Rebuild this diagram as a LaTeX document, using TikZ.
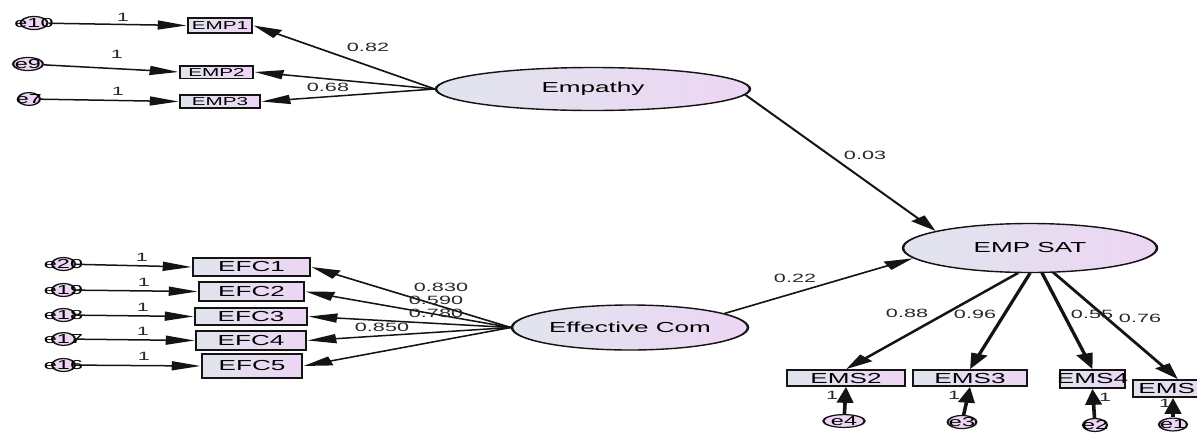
\documentclass[tikz,border=0pt]{standalone}
\usepackage{fontspec}
\setmainfont{Liberation Sans}
\usetikzlibrary{arrows.meta,shapes.geometric}
\definecolor{lc}{RGB}{20,20,20}
\definecolor{fl}{RGB}{224,229,237}
\definecolor{fr}{RGB}{237,213,244}
\definecolor{tc}{RGB}{40,40,40}
\tikzset{
  obs/.style={draw=lc, line width=1.6pt, rectangle, inner sep=0pt, left color=fl, right color=fr, text=black, font=\fontsize{14.5}{14.5}\selectfont},
  obssm/.style={obs, font=\fontsize{11.5}{11.5}\selectfont},
  lat/.style={draw=lc, line width=1.4pt, ellipse, inner sep=0pt, left color=fl, right color=fr, text=black, font=\fontsize{14.5}{14.5}\selectfont},
  err/.style={draw=lc, line width=1.2pt, ellipse, inner sep=0pt, left color=fr, right color=fr, text=black, font=\fontsize{13}{13}\selectfont},
  pth/.style={draw=lc, line width=1.5pt, -{Triangle[length=16pt,width=9pt]}},
  pthb/.style={pth, line width=2pt},
  lbl/.style={inner sep=0pt, text=tc, font=\fontsize{12}{12}\selectfont},
  one/.style={inner sep=0pt, text=tc, font=\fontsize{12}{12}\selectfont}
}
\newcommand{\cz}[1]{\makebox[0pt]{#1}}
\begin{document}
\begin{tikzpicture}[x=1pt,y=-1pt]
\useasboundingbox (0,0) rectangle (1197,432);
\clip (0,0) rectangle (1197,432);
\begin{scope}[transform canvas={xscale=1.8}, x=0.55556pt, y=-1pt]
% latent variables
\node[lat, minimum width=174.4pt, minimum height=43pt] (Empathy) at (593,89) {\cz{Empathy}};
\node[lat, minimum width=141.1pt, minimum height=49pt] (EMPSAT) at (1030,248) {\cz{EMP SAT}};
\node[lat, minimum width=131.1pt, minimum height=45pt] (EffCom) at (630,327.5) {\cz{Effective Com}};
% EMP indicators
\node[obssm, minimum width=35.6pt, minimum height=15pt] (EMP1) at (220,25.5) {\cz{EMP1}};
\node[obssm, minimum width=40.6pt, minimum height=12.6pt] (EMP2) at (216.5,72) {\cz{EMP2}};
\node[obssm, minimum width=44.4pt, minimum height=13pt] (EMP3) at (220,101.5) {\cz{EMP3}};
% EFC indicators
\node[obs, minimum width=65pt, minimum height=18pt] (EFC1) at (251.5,267) {\cz{EFC1}};
\node[obs, minimum width=58.3pt, minimum height=19pt] (EFC2) at (251.5,291.5) {\cz{EFC2}};
\node[obs, minimum width=62.2pt, minimum height=17pt] (EFC3) at (251,316.5) {\cz{EFC3}};
\node[obs, minimum width=61.1pt, minimum height=19pt] (EFC4) at (251,340.5) {\cz{EFC4}};
\node[obs, minimum width=55.6pt, minimum height=24pt] (EFC5) at (252,366) {\cz{EFC5}};
% EMS indicators
\node[obs, minimum width=65.6pt, minimum height=16pt] (EMS2) at (846,378) {\cz{EMS2}};
\node[obs, minimum width=63.3pt, minimum height=16pt] (EMS3) at (970,378) {\cz{EMS3}};
\node[obs, minimum width=36.1pt, minimum height=18pt] (EMS4) at (1092.5,379) {\cz{EMS4}};
\node[obs, minimum width=50pt, minimum height=17pt] (EMS5) at (1178,388.5) {\makebox[0pt][l]{\hspace*{-22pt}EMS}};
% error terms
\node[err, minimum width=15pt, minimum height=11pt] (e10) at (34,23) {\cz{e10}};
\node[err, minimum width=16.7pt, minimum height=12pt] (e9) at (28,64) {\cz{e9}};
\node[err, minimum width=12.2pt, minimum height=12pt] (e7) at (29,99) {\cz{e7}};
\node[err, minimum width=12.8pt, minimum height=12pt] (e20) at (63.5,264) {\cz{e20}};
\node[err, minimum width=12.8pt, minimum height=12pt] (e19) at (63.5,290) {\cz{e19}};
\node[err, minimum width=12.8pt, minimum height=12pt] (e18) at (63.5,315) {\cz{e18}};
\node[err, minimum width=12.8pt, minimum height=12pt] (e17) at (63.5,339) {\cz{e17}};
\node[err, minimum width=12.8pt, minimum height=12pt] (e16) at (63.5,365) {\cz{e16}};
\node[err, minimum width=23pt, minimum height=9pt] (e4) at (844,421) {\cz{e4}};
\node[err, minimum width=16pt, minimum height=12pt] (e3) at (962,422) {\cz{e3}};
\node[err, minimum width=13.3pt, minimum height=10pt] (e2) at (1095,425) {\cz{e2}};
\node[err, minimum width=15.6pt, minimum height=11pt] (e1) at (1173,424.5) {\cz{e1}};
% error paths
\draw[pth] (e10) -- (EMP1.west);
\draw[pth] (e9) -- (EMP2.west);
\draw[pth] (e7) -- (EMP3.west);
\draw[pth] (e20) -- (EFC1.west);
\draw[pth] (e19) -- (EFC2.west);
\draw[pth] (e18) -- (EFC3.west);
\draw[pth] (e17) -- (EFC4.west);
\draw[pth] (e16) -- (EFC5.west);
\draw[pthb] (e4) -- (EMS2.south);
\draw[pthb] (e3) -- (EMS3.south);
\draw[pthb] (e2) -- (EMS4.south);
\draw[pthb] (e1) -- (e1.north |- EMS5.south);
% loadings
\draw[pth] (Empathy.west) -- (EMP1.east);
\draw[pth] (Empathy.west) -- (EMP2.east);
\draw[pth] (Empathy.west) -- (EMP3.east);
\draw[pth] (EffCom.west) -- (EFC1.east);
\draw[pth] (EffCom.west) -- (EFC2.east);
\draw[pth] (EffCom.west) -- (EFC3.east);
\draw[pth] (EffCom.west) -- (EFC4.east);
\draw[pth] (EffCom.west) -- (EFC5.east);
\draw[pthb] (EMPSAT.255) -- (EMS2.north);
\draw[pthb] (EMPSAT.270) -- (EMS3.north);
\draw[pthb] (EMPSAT.285) -- (EMS4.north);
\draw[pthb] (EMPSAT.298) -- (EMS5.north);
% structural paths
\draw[pth] (Empathy.-4) -- (EMPSAT.162);
\draw[pth] (EffCom.15) -- (EMPSAT.189);
% labels
\node[one] (o1) at (123,17) {1};
\node[one] (o2) at (117,54) {1};
\node[one] (o3) at (118,91) {1};
\node[one] (o4) at (142,257) {1};
\node[one] (o5) at (144,282) {1};
\node[one] (o6) at (143,307) {1};
\node[one] (o7) at (143,331) {1};
\node[one] (o8) at (144,356) {1};
\node[one] (o9) at (832,395) {1};
\node[one] (o10) at (954,395) {1};
\node[one] (o11) at (1105,397) {1};
\node[one] (o12) at (1165,403) {1};
\node[lbl] (l1) at (368,47) {0.82};
\node[lbl] (l2) at (328,87) {0.68};
\node[lbl] (l3) at (865,155) {0.03};
\node[lbl] (l4) at (795,278) {0.22};
\node[lbl] (l5) at (441,287) {0.830};
\node[lbl] (l6) at (436,300) {0.590};
\node[lbl] (l7) at (436,313) {0.780};
\node[lbl] (l8) at (382,327) {0.850};
\node[lbl] (l9) at (907,313) {0.88};
\node[lbl] (l10) at (975,314) {0.96};
\node[lbl] (l11) at (1092,314) {0.55};
\node[lbl] (l12) at (1140,318) {0.76};
\end{scope}
\end{tikzpicture}
\end{document}
